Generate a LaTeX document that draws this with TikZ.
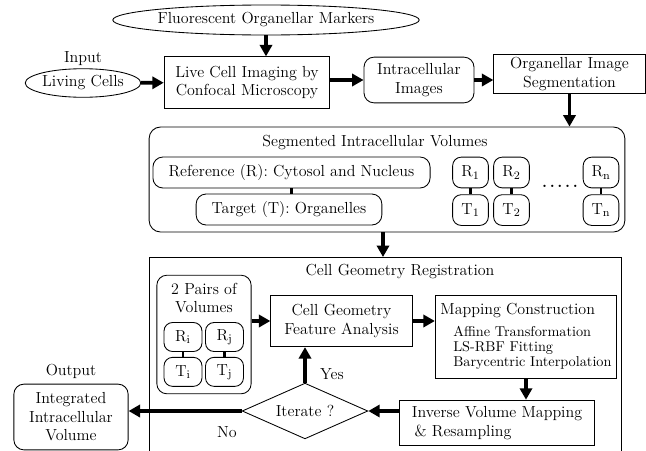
\documentclass[tikz,border=0pt]{standalone}
\usepackage{amsmath}
\usetikzlibrary{arrows.meta,shapes.geometric,positioning}

\begin{document}
\begin{tikzpicture}[x=0.7pt,y=-0.7pt,>={Triangle[length=8pt,width=8.5pt]},semithick,
                    every node/.style={font=\fontsize{11.2}{13}\selectfont}]
        \tikzstyle{box}=[draw=black,rectangle,align=center,inner sep=2pt]
        \tikzstyle{rbox}=[box,rounded corners=7pt]
        \tikzstyle{oval}=[draw=black,ellipse,inner sep=0pt]
        \tikzstyle{pair}=[rbox,rounded corners=6pt,minimum width=25pt,minimum height=21.5pt,inner sep=0pt]
        \tikzstyle{flow}=[->,line width=2.6pt]
        \tikzstyle{link}=[-,line width=2pt]
        \useasboundingbox (0,0) rectangle (646,451);

        % acquisition
        \node[oval,minimum width=198pt,minimum height=21pt] (fluor) at (266,20) {Fluorescent Organellar Markers};
        \node[oval,minimum width=78pt,minimum height=20pt]  (cells) at (83,83)  {Living Cells};
        \node (inlbl) [above=-2pt of cells] {Input};
        \node[box,minimum width=116pt,minimum height=36pt]  (live)   at (247,82.5) {Live Cell Imaging by\\Confocal Microscopy};
        \node[rbox,minimum width=77pt,minimum height=32pt]  (images) at (419,80)   {Intracellular\\Images};
        \node[box,minimum width=106pt,minimum height=27pt]  (seg)    at (569.5,74) {Organellar Image\\Segmentation};

        % segmented volumes
        \node[rbox,rounded corners=8pt,minimum width=333pt,minimum height=73.5pt] (segvol) at (387,179.5) {};
        \node (segttl) at (375,143) {Segmented Intracellular Volumes};
        \node[rbox,minimum width=194pt,minimum height=21.7pt] (ref) at (291.5,172.5) {Reference (R): Cytosol and Nucleus};
        \node[rbox,minimum width=130pt,minimum height=21.7pt] (tgt) at (289,209.5)   {Target (T): Organelles};

        \node[pair] (r1) at (470.5,172.5)    {R$_\mathrm{1}$};
        \node[pair] (t1) [below=4.2pt of r1] {T$_\mathrm{1}$};
        \node[pair] (r2) at (511.5,172.5)    {R$_\mathrm{2}$};
        \node[pair] (t2) [below=4.2pt of r2] {T$_\mathrm{2}$};
        \node[pair] (rn) at (601,172.5)      {R$_\mathrm{n}$};
        \node[pair] (tn) [below=4.2pt of rn] {T$_\mathrm{n}$};
        \node (dots) at (560,186) {\textbf{.\,.\,.\,.\,.}};

        % registration
        \coordinate (regtop) at (383,257);
        \draw (149,451) -- (149,257) -- (621,257) -- (621,451);
        \node (regttl) at (400,272) {Cell Geometry Registration};

        \node[rbox,minimum width=66pt,minimum height=83pt] (pairs) at (204,334.5) {};
        \node[align=center] (pairttl) at (204,298) {2 Pairs of\\Volumes};
        \node[pair,minimum width=26.6pt,minimum height=20.3pt] (ri) at (183,337)      {R$_\mathrm{i}$};
        \node[pair,minimum width=26.6pt,minimum height=20.3pt] (ti) [below=3.5pt of ri] {T$_\mathrm{i}$};
        \node[pair,minimum width=26.6pt,minimum height=20.3pt] (rj) at (224.5,337)    {R$_\mathrm{j}$};
        \node[pair,minimum width=26.6pt,minimum height=20.3pt] (tj) [below=3.5pt of rj] {T$_\mathrm{j}$};

        \node[box,minimum width=99pt,minimum height=36pt]  (cgfa) at (341.5,321) {Cell Geometry\\Feature Analysis};
        \node[box,minimum width=127pt,minimum height=58pt,align=left] (mapc) at (526,336.5)
             {Mapping Construction\\[2pt]
              {\fontsize{10}{11}\selectfont\hspace{9pt}Affine Transformation}\\[-2.5pt]
              {\fontsize{10}{11}\selectfont\hspace{9pt}LS-RBF Fitting}\\[-2.5pt]
              {\fontsize{10}{11}\selectfont\hspace{9pt}Barycentric Interpolation}};
        \node[box,minimum width=137pt,minimum height=32pt,align=left] (inv) at (497,423) {Inverse Volume Mapping\\\,\& Resampling};
        \node[diamond,draw=black,aspect=2.2,minimum width=88pt,minimum height=39pt,inner sep=0pt] (iter) at (305,411) {Iterate ?};

        % output
        \node[rbox,minimum width=80pt,minimum height=46pt] (integ) at (71,417) {Integrated\\Intracellular\\Volume};
        \node (outlbl) [above=0pt of integ] {Output};
        \node (yes) at (332,374) {Yes};
        \node (no)  at (227,432) {No};

        \path[flow] (fluor.south)  edge (fluor.south |- live.north)
                    (cells)        edge (live)
                    (live.east |- images) edge (images.west)
                    (images.east)  edge (images.east -| seg.west)
                    (seg.south)    edge (seg.south |- segvol.north)
                    (regtop |- segvol.south) edge (regtop)
                    (pairs.east |- cgfa) edge (cgfa.west)
                    (cgfa.east)    edge (cgfa.east -| mapc.west)
                    (mapc.south)   edge (mapc.south |- inv.north)
                    (inv.west |- iter.east) edge (iter.east)
                    (iter.north)   edge (iter.north |- cgfa.south)
                    (iter.west)    edge (iter.west -| integ.east);
        \path[link] (ref.south) edge (ref.south |- tgt.north)
                    (r1) edge (t1)
                    (r2) edge (t2)
                    (rn) edge (tn)
                    (ri) edge (ti)
                    (rj) edge (tj);
\end{tikzpicture}
\end{document}
